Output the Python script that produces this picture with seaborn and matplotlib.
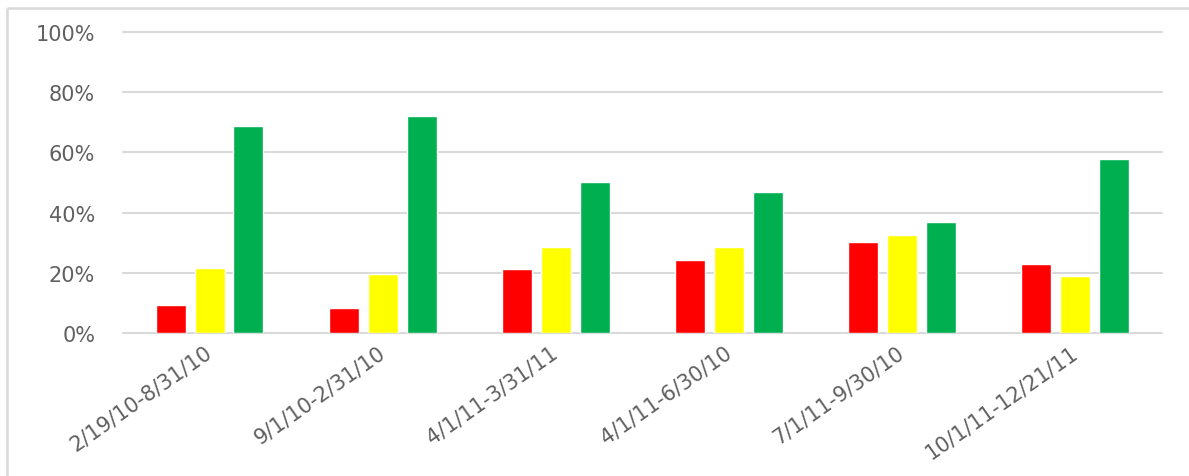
import pandas as pd
import seaborn as sns
import matplotlib.pyplot as plt
from matplotlib.lines import Line2D
from matplotlib.ticker import PercentFormatter

periods = ['2/19/10-8/31/10', '9/1/10-2/31/10', '4/1/11-3/31/11',
           '4/1/11-6/30/10', '7/1/11-9/30/10', '10/1/11-12/21/11']
red = [0.093, 0.082, 0.212, 0.243, 0.301, 0.228]
yellow = [0.215, 0.195, 0.285, 0.285, 0.327, 0.190]
green = [0.689, 0.720, 0.501, 0.469, 0.368, 0.578]
status = ['Red', 'Yellow', 'Green']
colors = ['#FF0000', '#FFFF00', '#00B050']

df = pd.DataFrame({
    'period': periods * 3,
    'status': [s for s in status for _ in periods],
    'share': red + yellow + green,
})

sns.set_theme(style='white')
plt.rcParams['font.family'] = ['DejaVu Sans']

fig = plt.figure(figsize=(11.89, 4.77), dpi=100)
fig.patch.set_linewidth(0)
ax = fig.add_axes([0.1034, 0.2998, 0.8739, 0.631])

sns.barplot(data=df, x='period', y='share', hue='status', order=periods,
            hue_order=status, palette=colors, width=0.675, gap=0.23,
            saturation=1, legend=False, ax=ax)

ax.set_ylim(0, 1)
ax.set_xlim(-0.5, len(periods) - 0.5)
ax.yaxis.set_major_formatter(PercentFormatter(1.0, decimals=0))
ax.set_yticks([0, 0.2, 0.4, 0.6, 0.8, 1.0])
ax.grid(axis='y', color='#D9D9D9', linewidth=1.5)
for gl in ax.get_ygridlines():
    gl.set_clip_on(False)
ax.set_axisbelow(True)
for s in ax.spines.values():
    s.set_visible(False)
ax.set_xlabel('')
ax.set_ylabel('')
ax.tick_params(axis='y', length=0, pad=20, labelsize=15, labelcolor='#606060')
ax.tick_params(axis='x', length=0, pad=12, labelsize=15, labelcolor='#606060')
plt.setp(ax.get_xticklabels(), rotation=35, ha='right', va='center',
         rotation_mode='anchor')

# outer chart frame (top and left edges only are visible)
x0, y0 = 7 / 1189, 1 - 9 / 477
fig.add_artist(Line2D([x0, 1.0], [y0, y0], transform=fig.transFigure,
                      color='#D9D9D9', linewidth=1.8, solid_capstyle='butt'))
fig.add_artist(Line2D([x0, x0], [0.0, y0], transform=fig.transFigure,
                      color='#D9D9D9', linewidth=1.8, solid_capstyle='butt'))

plt.savefig('out.png', dpi=100, facecolor='white', edgecolor='none')
